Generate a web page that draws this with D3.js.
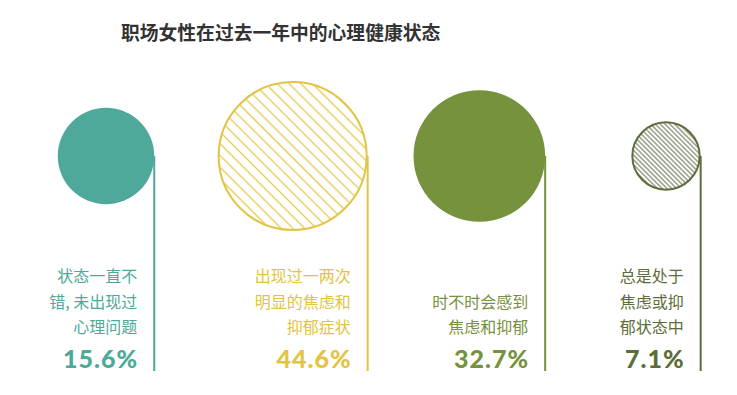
<!DOCTYPE html>
<html><head><meta charset="utf-8">
<script src="https://cdn.jsdelivr.net/npm/d3@7"></script>
<style>
html,body{margin:0;padding:0;background:#fff;}
svg{display:block;}
</style></head>
<body>
<svg id="chart" width="737" height="395"></svg>
<script>
const title = "职场女性在过去一年中的心理健康状态";
const categories = ["状态良好", "一两次", "时不时", "总是"];
const values = [15.6, 44.6, 32.7, 7.1];
const labelLines = [
  ["状态一直不", "错, 未出现过", "心理问题"],
  ["出现过一两次", "明显的焦虑和", "抑郁症状"],
  ["时不时会感到", "焦虑和抑郁"],
  ["总是处于", "焦虑或抑", "郁状态中"]
];

const palette = ["#4fa99a", "#e2c443", "#77923d", "#5c6d39"];
const hatchColor = ["", "#e6c84e", "", "#6f7a58"];
const hatched = [false, true, false, true];
const hatchGap = [0, 8.3, 0, 3.4];

const svg = d3.select("#chart");
const cy = 156, lineBottom = 371;

const x = d3.scalePoint().domain(categories).range([106, 666]);
const r = d3.scalePow().exponent(0.42).domain([0, 44.6]).range([0, 75]);

svg.append("text")
  .attr("x", 121).attr("y", 40)
  .attr("font-family", "'Noto Sans CJK SC', sans-serif")
  .attr("font-weight", "bold")
  .attr("font-size", 18.8)
  .attr("fill", "#333")
  .text(title);

const defs = svg.append("defs");
categories.forEach((c, i) => {
  if (!hatched[i]) return;
  const g = hatchGap[i];
  const p = defs.append("pattern")
    .attr("id", "hatch" + i)
    .attr("patternUnits", "userSpaceOnUse")
    .attr("width", 10).attr("height", g)
    .attr("patternTransform", "rotate(45)");
  p.append("line")
    .attr("x1", -1).attr("x2", 11)
    .attr("y1", g / 2).attr("y2", g / 2)
    .attr("stroke", hatchColor[i])
    .attr("stroke-width", i === 1 ? 1.3 : 1.1);
});

const grp = svg.selectAll("g.item").data(categories).join("g").attr("class", "item");

grp.each(function(c, i) {
  const g = d3.select(this);
  const cx = x(c), rad = r(values[i]);
  const lx = cx + rad;
  g.append("line")
    .attr("x1", lx).attr("x2", lx)
    .attr("y1", cy).attr("y2", lineBottom)
    .attr("stroke", palette[i]).attr("stroke-width", 2);
  const circ = g.append("circle").attr("cx", cx).attr("cy", cy);
  if (hatched[i]) {
    circ.attr("r", rad - 1)
      .attr("fill", "url(#hatch" + i + ")")
      .attr("stroke", palette[i]).attr("stroke-width", 2);
  } else {
    circ.attr("r", rad).attr("fill", palette[i]);
  }
  const lines = labelLines[i];
  const n = lines.length;
  lines.forEach((t, k) => {
    g.append("text")
      .attr("x", lx - 17)
      .attr("y", 333 - (n - 1 - k) * 25.5)
      .attr("text-anchor", "end")
      .attr("font-family", "'Noto Sans CJK SC', sans-serif")
      .attr("font-size", 16)
      .attr("fill", palette[i])
      .text(t);
  });
  g.append("text")
    .attr("x", lx - 16)
    .attr("y", 368)
    .attr("text-anchor", "end")
    .attr("font-family", "Lato, 'Noto Sans', sans-serif")
    .attr("font-weight", 900)
    .attr("font-size", 25)
    .attr("letter-spacing", 1)
    .attr("fill", palette[i])
    .text(d3.format(".1f")(values[i]) + "%");
});
</script>
</body></html>
